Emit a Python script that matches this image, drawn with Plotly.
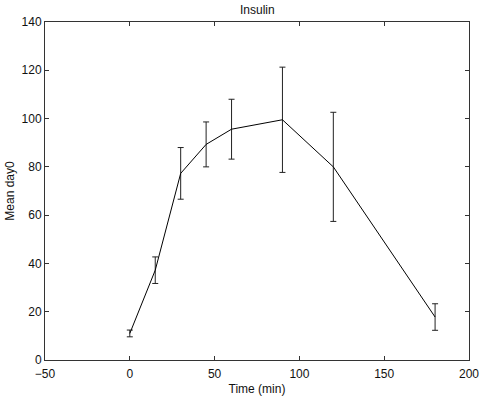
import plotly.graph_objects as go

time_min = [0, 15, 30, 45, 60, 90, 120, 180]
mean_day0 = [11.0, 37.2, 77.3, 89.3, 95.6, 99.5, 80.0, 17.8]
err = [1.4, 5.5, 10.7, 9.3, 12.4, 21.8, 22.6, 5.5]

x_ticks = [-50, 0, 50, 100, 150, 200]
y_ticks = [0, 20, 40, 60, 80, 100, 120, 140]

FONT = "Liberation Sans, Arial"

fig = go.Figure()
fig.add_trace(go.Scatter(
    x=time_min, y=mean_day0, mode="lines",
    line=dict(color="black", width=1),
    error_y=dict(type="data", array=err, visible=True,
                 color="#222222", thickness=1, width=3),
    showlegend=False,
))

axis_common = dict(
    showgrid=False, zeroline=False, showline=True, linecolor="#333333",
    linewidth=1, mirror="ticks", ticks="inside", ticklen=4,
    tickcolor="#333333", automargin=False,
    tickfont=dict(family=FONT, size=12, color="#111111"),
)

fig.update_layout(
    width=481, height=396,
    margin=dict(l=45, r=12, t=22, b=36),
    paper_bgcolor="white", plot_bgcolor="white",
    title=dict(text="Insulin", x=0.535, xanchor="center", y=0.975, yanchor="middle",
               font=dict(family=FONT, size=12, color="#111111")),
    xaxis=dict(range=[-50, 200], tickvals=x_ticks, ticklabelstandoff=3, **axis_common,
               title=dict(text="Time (min)", standoff=4,
                          font=dict(family=FONT, size=12, color="#111111"))),
    yaxis=dict(range=[0, 140], tickvals=y_ticks, **axis_common,
               title=dict(text="Mean day0", standoff=4,
                          font=dict(family=FONT, size=12, color="#111111"))),
)

fig.write_html("out.html")
